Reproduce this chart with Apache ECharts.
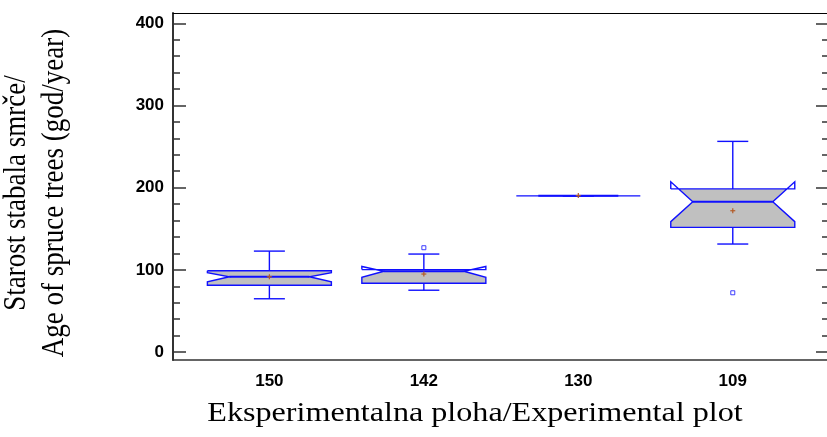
<!DOCTYPE html>
<html>
<head>
<meta charset="utf-8">
<script src="https://cdn.jsdelivr.net/npm/echarts@6/dist/echarts.min.js"></script>
<style>
html,body{margin:0;padding:0;background:#fff;}
#chart{width:827px;height:437px;}
</style>
</head>
<body>
<div id="chart"></div>
<script>
// ---- data ----
var categories = ['150', '142', '130', '109'];
var whiskerLow  = [64.8, 75.2, 190, 131.4];
var q1          = [81.3, 83.6, 190, 151.7];
var median      = [91.6, 98.3, 190, 182.8];
var q3          = [98.9, 100.3, 190, 198.5];
var notchLow    = [85.5, 90.9, 190, 158.6];
var notchHigh   = [96.5, 104.1, 190, 207.2];
var whiskerHigh = [122.8, 119.2, 190, 256.3];
var means       = [91.6, 94.9, 190.3, 171.9];
var outlierCat  = ['142', '109'];
var outlierVal  = [126.9, 72.1];
var yMajorTicks = [0, 100, 200, 300, 400];
var yMinorTicks = [20, 40, 60, 80, 120, 140, 160, 180, 220, 240, 260, 280, 320, 340, 360, 380];

// ---- build ----
var boxData = categories.map(function (c, i) {
  return [i + 1, q1[i], median[i], q3[i], notchLow[i], notchHigh[i], whiskerLow[i], whiskerHigh[i], means[i]];
});
var outlierData = outlierCat.map(function (c, i) {
  return [categories.indexOf(c) + 1, outlierVal[i]];
});

var BOX_HALF = 62;
var NOTCH_D = 22;
var CAP_HALF = 15.5;
var BLUE = '#1010ff';
var MEAN_COLOR = '#b35a26';
var YMIN = -9.7, YMAX = 412.5;
var XMIN = 0.376, XMAX = 4.61;
var labelFont = { fontSize: 17, fontWeight: 'bold', fontFamily: '"Liberation Sans", Arial, sans-serif', color: '#000' };

function renderBox(params, api) {
  var xv = api.value(0);
  var c = api.coord([xv, 0])[0];
  function yv(v) { return api.coord([xv, v])[1]; }
  var Q1 = yv(api.value(1)), M = yv(api.value(2)), Q3 = yv(api.value(3));
  var NL = yv(api.value(4)), NU = yv(api.value(5));
  var WL = yv(api.value(6)), WH = yv(api.value(7)), MEAN = yv(api.value(8));
  var L = c - BOX_HALF, R = c + BOX_HALF, d = NOTCH_D;

  function leftX(y) {
    if (y >= NU && y <= M) return (M - NU) > 0.01 ? L + d * (y - NU) / (M - NU) : L + d;
    if (y > M && y <= NL) return (NL - M) > 0.01 ? L + d * (NL - y) / (NL - M) : L + d;
    return L;
  }
  var children = [];
  // fill
  if (Q1 - Q3 > 0.5) {
    var ys = [Q3, NU, M, NL, Q1].filter(function (y) { return y >= Q3 && y <= Q1; });
    ys.sort(function (a, b) { return a - b; });
    var uniq = [];
    ys.forEach(function (y) { if (!uniq.length || Math.abs(uniq[uniq.length - 1] - y) > 0.01) uniq.push(y); });
    var pts = [];
    uniq.forEach(function (y) { pts.push([leftX(y), y]); });
    for (var k = uniq.length - 1; k >= 0; k--) pts.push([2 * c - leftX(uniq[k]), uniq[k]]);
    children.push({ type: 'polygon', shape: { points: pts }, style: { fill: '#c0c0c0', stroke: null } });
  }
  var ls = { stroke: BLUE, lineWidth: 1.4, fill: null };
  // whiskers
  children.push({ type: 'line', shape: { x1: c, y1: Q3, x2: c, y2: WH }, style: ls });
  children.push({ type: 'line', shape: { x1: c - CAP_HALF, y1: WH, x2: c + CAP_HALF, y2: WH }, style: ls });
  children.push({ type: 'line', shape: { x1: c, y1: Q1, x2: c, y2: WL }, style: ls });
  children.push({ type: 'line', shape: { x1: c - CAP_HALF, y1: WL, x2: c + CAP_HALF, y2: WL }, style: ls });
  // outline
  children.push({ type: 'polyline', shape: { points: [
    [L, Q3], [L, NU], [L + d, M], [L, NL], [L, Q1], [R, Q1], [R, NL], [R - d, M], [R, NU], [R, Q3], [L, Q3]
  ] }, style: ls });
  // median
  children.push({ type: 'line', shape: { x1: L + d, y1: M, x2: R - d, y2: M }, style: { stroke: BLUE, lineWidth: 2, fill: null } });
  // mean marker
  var ms = { stroke: MEAN_COLOR, lineWidth: 1.2, fill: null };
  children.push({ type: 'line', shape: { x1: c - 2.5, y1: MEAN, x2: c + 2.5, y2: MEAN }, style: ms });
  children.push({ type: 'line', shape: { x1: c, y1: MEAN - 2.5, x2: c, y2: MEAN + 2.5 }, style: ms });
  return { type: 'group', children: children };
}

var chart = echarts.init(document.getElementById('chart'), null, { renderer: 'canvas' });
chart.setOption({
  animation: false,
  backgroundColor: '#fff',
  grid: { left: 173, right: 0, top: 13, bottom: 77 },
  xAxis: [
    {
      type: 'value', min: XMIN, max: XMAX, position: 'bottom',
      axisLine: { show: true, onZero: false, lineStyle: { color: '#333', width: 1.5 } },
      axisTick: { show: false }, splitLine: { show: false },
      axisLabel: Object.assign({ customValues: [1, 2, 3, 4], margin: 13,
        formatter: function (v) { return categories[Math.round(v) - 1]; } }, labelFont)
    },
    {
      type: 'value', min: XMIN, max: XMAX, position: 'top',
      axisLine: { show: true, onZero: false, lineStyle: { color: '#000', width: 1 } },
      axisTick: { show: false }, axisLabel: { show: false }, splitLine: { show: false }
    }
  ],
  yAxis: [
    {
      type: 'value', min: YMIN, max: YMAX, position: 'left',
      axisLine: { show: true, onZero: false, lineStyle: { color: '#333', width: 2 } },
      axisTick: { show: true, inside: true, length: 13, customValues: yMajorTicks, lineStyle: { color: '#333', width: 1.5 } },
      axisLabel: Object.assign({ customValues: yMajorTicks, margin: 9 }, labelFont),
      splitLine: { show: false }
    },
    {
      type: 'value', min: YMIN, max: YMAX, position: 'left',
      axisLine: { show: false },
      axisTick: { show: true, inside: true, length: 7, customValues: yMinorTicks, lineStyle: { color: '#333', width: 1.5 } },
      axisLabel: { show: false }, splitLine: { show: false }
    },
    {
      type: 'value', min: YMIN, max: YMAX, position: 'right',
      axisLine: { show: false },
      axisTick: { show: true, inside: true, length: 11, customValues: yMajorTicks, lineStyle: { color: '#333', width: 1.5 } },
      axisLabel: { show: false }, splitLine: { show: false }
    },
    {
      type: 'value', min: YMIN, max: YMAX, position: 'right',
      axisLine: { show: false },
      axisTick: { show: true, inside: true, length: 5, customValues: yMinorTicks, lineStyle: { color: '#333', width: 1.5 } },
      axisLabel: { show: false }, splitLine: { show: false }
    }
  ],
  graphic: [
    {
      type: 'group', x: 36, y: 193, scaleX: 1.19,
      children: [{
        type: 'text', rotation: Math.PI / 2,
        style: {
          text: 'Starost stabala smrče/\nAge of spruce trees (god/year)',
          fontSize: 27, fontFamily: '"Liberation Serif", "Times New Roman", serif',
          fill: '#000', textAlign: 'center', align: 'center',
          textVerticalAlign: 'middle', verticalAlign: 'middle', lineHeight: 32
        }
      }]
    },
    {
      type: 'text', x: 475, y: 414, scaleX: 1.19,
      style: {
        text: 'Eksperimentalna ploha/Experimental plot',
        fontSize: 27, fontFamily: '"Liberation Serif", "Times New Roman", serif',
        fill: '#000', textAlign: 'center', align: 'center',
        textVerticalAlign: 'middle', verticalAlign: 'middle'
      }
    }
  ],
  series: [
    {
      type: 'custom', xAxisIndex: 0, yAxisIndex: 0,
      renderItem: renderBox, data: boxData, clip: false,
      encode: { x: 0, y: [1, 2, 3, 4, 5, 6, 7, 8] }
    },
    {
      type: 'scatter', xAxisIndex: 0, yAxisIndex: 0,
      data: outlierData, symbol: 'rect', symbolSize: 4,
      itemStyle: { color: '#fff', borderColor: BLUE, borderWidth: 1 }
    }
  ]
});
</script>
</body>
</html>
